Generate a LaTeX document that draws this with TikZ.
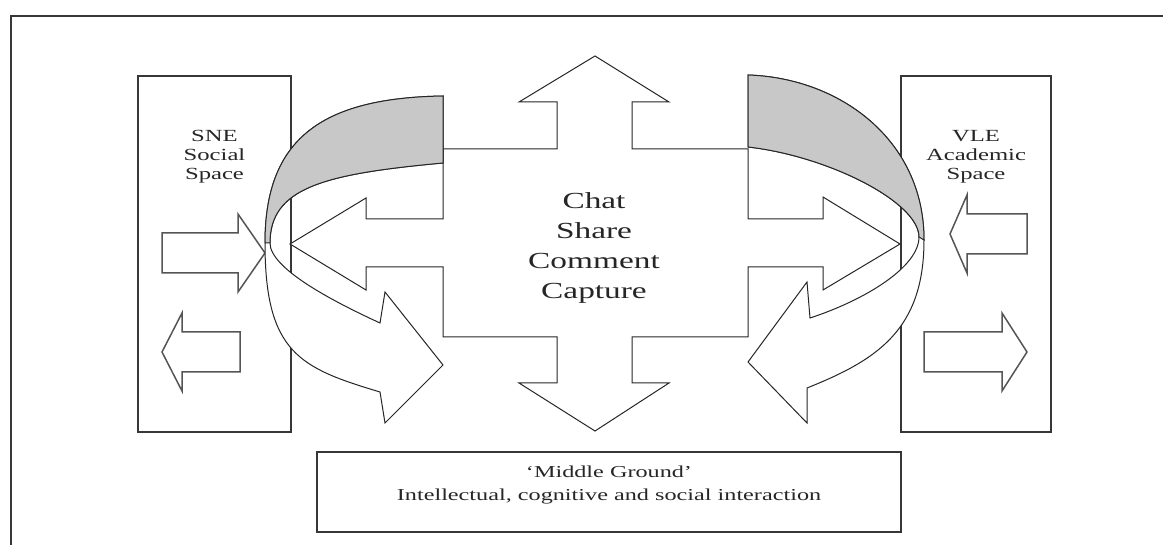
\documentclass[tikz,border=0pt]{standalone}
\usepackage{fontspec}
\newfontfamily\widefont{Liberation Serif}[FakeStretch=1.45]
\definecolor{inkgray}{RGB}{55,55,55}
\definecolor{bandgray}{RGB}{200,200,200}
\tikzset{
  frameline/.style={draw=inkgray, line width=1.3pt},
  spacebox/.style={draw=inkgray, fill=white, line width=1.2pt},
  blockarrow/.style={draw=inkgray!85, fill=white, line width=1.5pt, line join=miter},
  band/.style={draw=black!85, fill=white, line width=1pt},
  backband/.style={draw=black!85, fill=bandgray, line width=1pt},
  spacetext/.style={font=\widefont\fontsize{17}{19}\selectfont, text=black!85, align=center, inner sep=0pt},
  hubtext/.style={font=\widefont\fontsize{23}{30}\selectfont, text=black!85, align=center, inner sep=0pt},
  groundtext/.style={font=\widefont\fontsize{16.7}{23}\selectfont, text=black!85, align=center, inner sep=0pt}
}
\begin{document}
\begin{tikzpicture}[x=1pt,y=-1pt]
\useasboundingbox (0,0) rectangle (1163,545);
% outer frame, cut off at right and bottom
\draw[frameline] (11,545) -- (11,16) -- (1163,16);
% the two spaces and the middle ground
\draw[spacebox] (138,76) rectangle (291,432);
\draw[spacebox] (901,76) rectangle (1051,432);
\draw[spacebox] (317,452) rectangle (901,532);
% in and out arrows of each space
\foreach \xs/\xh/\xt/\ym in {162/238/265/253, 240/182/162/352, 1027/967/950/234, 924/1002/1027/352}
  \draw[blockarrow] (\xs,\ym-20) -- (\xh,\ym-20) -- (\xh,\ym-39) -- (\xt,\ym) -- (\xh,\ym+39) -- (\xh,\ym+20) -- (\xs,\ym+20) -- cycle;
% four way arrow in the middle
\draw[band] (595,56) -- (669,102) -- (632,102) -- (632,149) -- (748,149) -- (748,219) -- (823,219) -- (823,197) -- (900,244) -- (823,290) -- (823,267) -- (748,267) -- (748,337) -- (632,337) -- (632,383) -- (669,383) -- (595,431) -- (519,383) -- (557,383) -- (557,337) -- (443,337) -- (443,267) -- (366,267) -- (366,290) -- (290,244) -- (366,198) -- (366,219) -- (443,219) -- (443,149) -- (557,149) -- (557,102) -- (519,102) -- cycle;
% left ribbon
\draw[band] (443,96) .. controls (320,98) and (265,140) .. (265,243) .. controls (265,353) and (300,368) .. (380,392) -- (385,423) -- (443,365) -- (385,292) -- (380,323) .. controls (330,300) and (270,268) .. (270,243) .. controls (270,188) and (323,174) .. (443,163) -- cycle;
\draw[backband] (443,96) .. controls (320,98) and (265,140) .. (265,243) -- (270,243) .. controls (270,188) and (323,174) .. (443,163) -- cycle;
% right ribbon
\draw[band] (748,75) .. controls (840,78) and (924,140) .. (924,240) .. controls (924,330) and (877,360) .. (807,388) -- (807,423) -- (748,362) -- (807,282) -- (810,318) .. controls (865,300) and (919,267) .. (919,237) .. controls (919,202) and (828,156) .. (748,147) -- cycle;
\draw[backband] (748,75) .. controls (840,78) and (924,140) .. (924,240) -- (919,237) .. controls (919,202) and (828,156) .. (748,147) -- cycle;
% texts
\node[spacetext] (sne) at (214.5,157) {SNE\\Social\\Space};
\node[spacetext] (vle) at (976,157) {VLE\\Academic\\Space};
\node[hubtext] (hub) at (594,248) {Chat\\Share\\Comment\\Capture};
\node[groundtext] (ground) at (609,485) {‘Middle Ground’\\Intellectual, cognitive and social interaction};
\end{tikzpicture}
\end{document}
